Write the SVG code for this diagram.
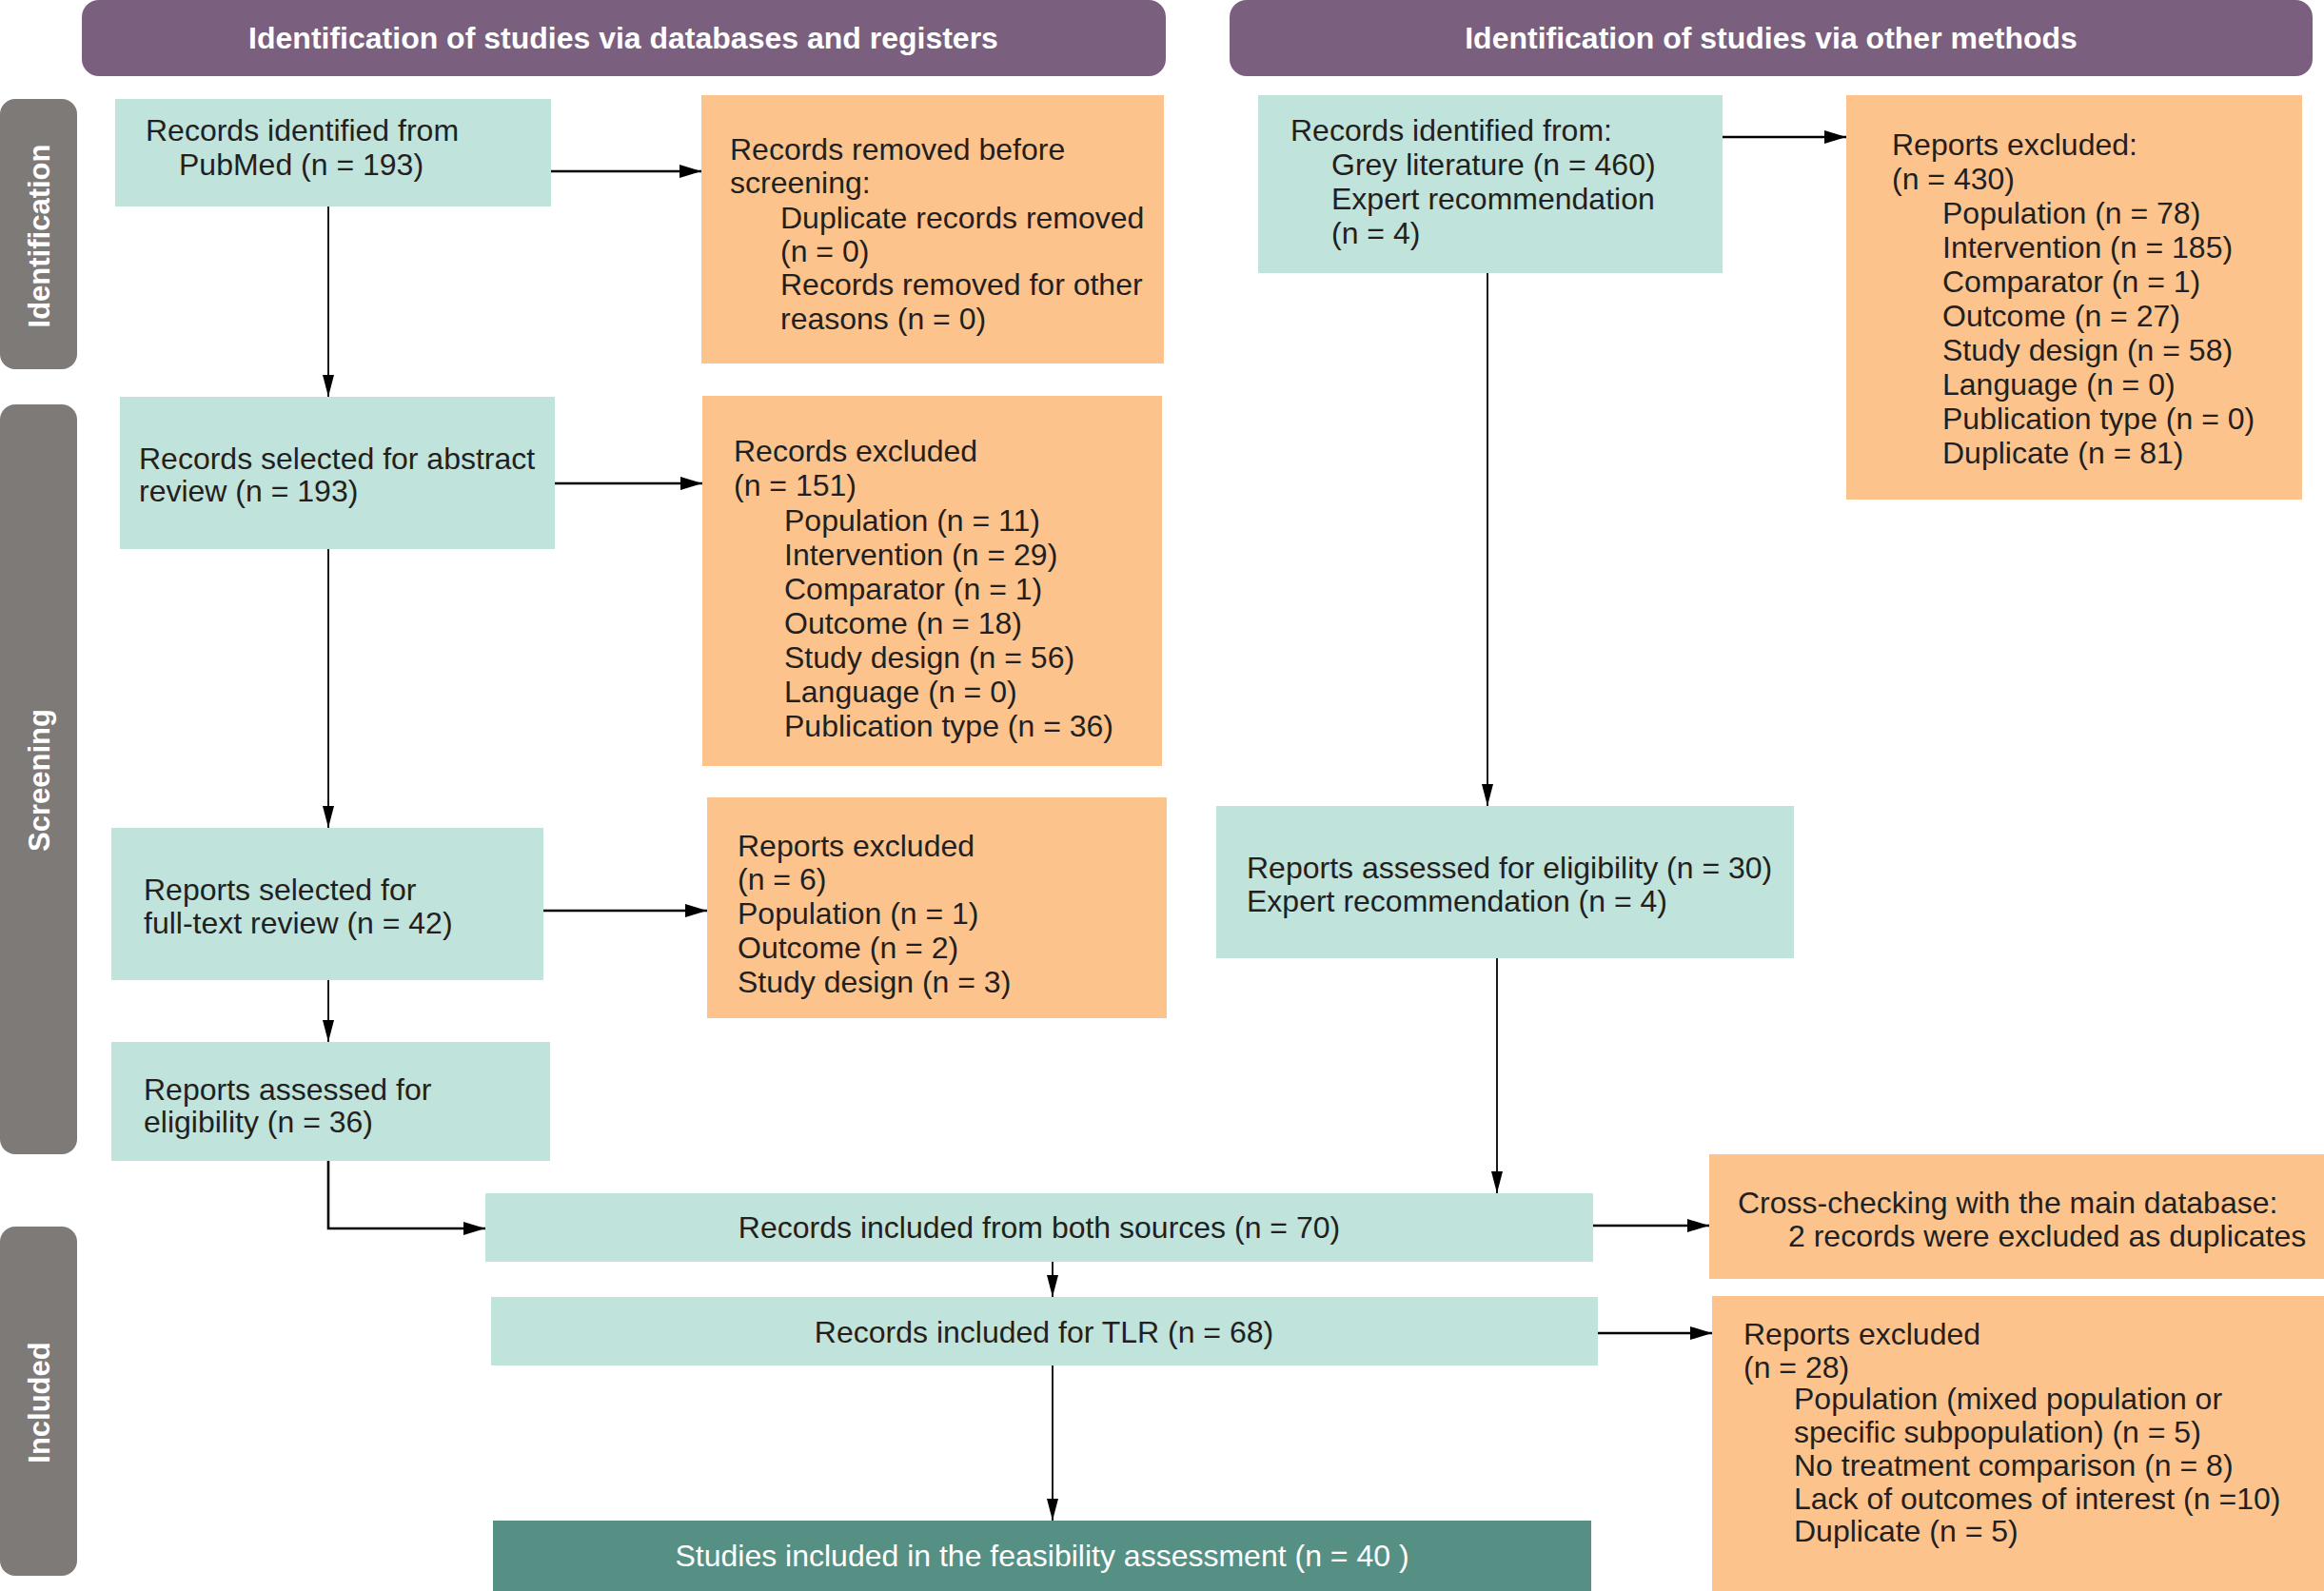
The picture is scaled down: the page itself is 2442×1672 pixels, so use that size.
<svg xmlns="http://www.w3.org/2000/svg" width="2442" height="1672" viewBox="0 0 2442 1672">
<defs>
<style>
.hdr{fill:#7a5f7e}
.side{fill:#7e7a78}
.lt{fill:#c0e3db}
.or{fill:#fcc48c}
.dk{fill:#568f83}
text{font-family:"Liberation Sans",Arial,Helvetica,sans-serif}
.t{font-size:32px;fill:#231f20}
.tc{font-size:32px;fill:#231f20;text-anchor:middle}
.tw{font-size:32px;fill:#ffffff;text-anchor:middle}
.ht{font-size:32px;font-weight:bold;fill:#ffffff;text-anchor:middle}
.st{font-size:31px;font-weight:bold;fill:#ffffff;text-anchor:middle}
.ch{fill:none;stroke:#000;stroke-width:2.6}
.cv{fill:none;stroke:#000;stroke-width:1.8}
</style>
<marker id="ah" markerUnits="userSpaceOnUse" markerWidth="24" markerHeight="14" refX="23" refY="7" orient="auto">
<path d="M0,0 L23,7 L0,14 z" fill="#000"/>
</marker>
<marker id="av" markerUnits="userSpaceOnUse" markerWidth="24" markerHeight="12" refX="23" refY="6" orient="auto">
<path d="M0,0 L23,6 L0,12 z" fill="#000"/>
</marker>
</defs>
<rect width="2442" height="1672" fill="#ffffff"/>

<g id="header-left"><rect class="hdr" x="86" y="0" width="1139" height="80" rx="18"/><text class="ht" x="655" y="51">Identification of studies via databases and registers</text></g>
<g id="header-right"><rect class="hdr" x="1292" y="0" width="1138" height="80" rx="18"/><text class="ht" x="1861" y="51">Identification of studies via other methods</text></g>

<g id="side-identification"><rect class="side" x="0" y="104" width="81" height="284" rx="16"/><text class="st" transform="translate(52,248) rotate(-90)">Identification</text></g>
<g id="side-screening"><rect class="side" x="0" y="425" width="81" height="788" rx="16"/><text class="st" transform="translate(52,820) rotate(-90)">Screening</text></g>
<g id="side-included"><rect class="side" x="0" y="1289" width="81" height="367" rx="16"/><text class="st" transform="translate(52,1474) rotate(-90)">Included</text></g>

<g id="connectors">
<line class="ch" x1="579" y1="180" x2="737" y2="180" marker-end="url(#ah)"/>
<line class="cv" x1="345" y1="217" x2="345" y2="417" marker-end="url(#av)"/>
<line class="ch" x1="583" y1="508" x2="738" y2="508" marker-end="url(#ah)"/>
<line class="cv" x1="345" y1="577" x2="345" y2="870" marker-end="url(#av)"/>
<line class="ch" x1="571" y1="957" x2="743" y2="957" marker-end="url(#ah)"/>
<line class="cv" x1="345" y1="1030" x2="345" y2="1095" marker-end="url(#av)"/>
<path class="ch" d="M345,1220 V1291 H510" marker-end="url(#ah)"/>
<line class="ch" x1="1810" y1="144" x2="1940" y2="144" marker-end="url(#ah)"/>
<line class="cv" x1="1563" y1="287" x2="1563" y2="847" marker-end="url(#av)"/>
<line class="cv" x1="1573" y1="1007" x2="1573" y2="1254" marker-end="url(#av)"/>
<line class="ch" x1="1674" y1="1288" x2="1796" y2="1288" marker-end="url(#ah)"/>
<line class="cv" x1="1106" y1="1326" x2="1106" y2="1363" marker-end="url(#av)"/>
<line class="ch" x1="1679" y1="1401" x2="1799" y2="1401" marker-end="url(#ah)"/>
<line class="cv" x1="1106" y1="1435" x2="1106" y2="1598" marker-end="url(#av)"/>
</g>

<g id="n-pubmed"><rect class="lt" x="121" y="104" width="458" height="113"/>
<text class="t" x="153" y="148">Records identified from</text>
<text class="t" x="188" y="184">PubMed (n = 193)</text></g>

<g id="n-removed"><rect class="or" x="737" y="100" width="486" height="282"/>
<text class="t" x="767" y="168">Records removed before</text>
<text class="t" x="767" y="203">screening:</text>
<text class="t" x="820" y="240">Duplicate records removed</text>
<text class="t" x="820" y="275">(n = 0)</text>
<text class="t" x="820" y="310">Records removed for other</text>
<text class="t" x="820" y="346">reasons (n = 0)</text></g>

<g id="n-abstract"><rect class="lt" x="126" y="417" width="457" height="160"/>
<text class="t" x="146" y="493">Records selected for abstract</text>
<text class="t" x="146" y="527">review (n = 193)</text></g>

<g id="n-excluded151"><rect class="or" x="738" y="416" width="483" height="389"/>
<text class="t" x="771" y="485">Records excluded</text>
<text class="t" x="771" y="521">(n = 151)</text>
<text class="t" x="824" y="558">Population (n = 11)</text>
<text class="t" x="824" y="594">Intervention (n = 29)</text>
<text class="t" x="824" y="630">Comparator (n = 1)</text>
<text class="t" x="824" y="666">Outcome (n = 18)</text>
<text class="t" x="824" y="702">Study design (n = 56)</text>
<text class="t" x="824" y="738">Language (n = 0)</text>
<text class="t" x="824" y="774">Publication type (n = 36)</text></g>

<g id="n-fulltext"><rect class="lt" x="117" y="870" width="454" height="160"/>
<text class="t" x="151" y="946">Reports selected for</text>
<text class="t" x="151" y="981">full-text review (n = 42)</text></g>

<g id="n-excluded6"><rect class="or" x="743" y="838" width="483" height="232"/>
<text class="t" x="775" y="900">Reports excluded</text>
<text class="t" x="775" y="935">(n = 6)</text>
<text class="t" x="775" y="971">Population (n = 1)</text>
<text class="t" x="775" y="1007">Outcome (n = 2)</text>
<text class="t" x="775" y="1043">Study design (n = 3)</text></g>

<g id="n-assessed36"><rect class="lt" x="117" y="1095" width="461" height="125"/>
<text class="t" x="151" y="1156">Reports assessed for</text>
<text class="t" x="151" y="1190">eligibility (n = 36)</text></g>

<g id="n-other"><rect class="lt" x="1322" y="100" width="488" height="187"/>
<text class="t" x="1356" y="148">Records identified from:</text>
<text class="t" x="1399" y="184">Grey literature (n = 460)</text>
<text class="t" x="1399" y="220">Expert recommendation</text>
<text class="t" x="1399" y="256">(n = 4)</text></g>

<g id="n-excluded430"><rect class="or" x="1940" y="100" width="479" height="425"/>
<text class="t" x="1988" y="163">Reports excluded:</text>
<text class="t" x="1988" y="199">(n = 430)</text>
<text class="t" x="2041" y="235">Population (n = 78)</text>
<text class="t" x="2041" y="271">Intervention (n = 185)</text>
<text class="t" x="2041" y="307">Comparator (n = 1)</text>
<text class="t" x="2041" y="343">Outcome (n = 27)</text>
<text class="t" x="2041" y="379">Study design (n = 58)</text>
<text class="t" x="2041" y="415">Language (n = 0)</text>
<text class="t" x="2041" y="451">Publication type (n = 0)</text>
<text class="t" x="2041" y="487">Duplicate (n = 81)</text></g>

<g id="n-assessed30"><rect class="lt" x="1278" y="847" width="607" height="160"/>
<text class="t" x="1310" y="923">Reports assessed for eligibility (n = 30)</text>
<text class="t" x="1310" y="958">Expert recommendation (n = 4)</text></g>

<g id="n-both"><rect class="lt" x="510" y="1254" width="1164" height="72"/>
<text class="tc" x="1092" y="1301">Records included from both sources (n = 70)</text></g>

<g id="n-crosscheck"><rect class="or" x="1796" y="1213" width="646" height="131"/>
<text class="t" x="1826" y="1275">Cross-checking with the main database:</text>
<text class="t" x="1879" y="1310">2 records were excluded as duplicates</text></g>

<g id="n-tlr"><rect class="lt" x="516" y="1363" width="1163" height="72"/>
<text class="tc" x="1097" y="1411">Records included for TLR (n = 68)</text></g>

<g id="n-excluded28"><rect class="or" x="1799" y="1362" width="643" height="310"/>
<text class="t" x="1832" y="1413">Reports excluded</text>
<text class="t" x="1832" y="1448">(n = 28)</text>
<text class="t" x="1885" y="1481">Population (mixed population or</text>
<text class="t" x="1885" y="1516">specific subpopulation) (n = 5)</text>
<text class="t" x="1885" y="1551">No treatment comparison (n = 8)</text>
<text class="t" x="1885" y="1586">Lack of outcomes of interest (n =10)</text>
<text class="t" x="1885" y="1620">Duplicate (n = 5)</text></g>

<g id="n-studies"><rect class="dk" x="518" y="1598" width="1154" height="74"/>
<text class="tw" x="1095" y="1646">Studies included in the feasibility assessment (n = 40 )</text></g>
</svg>
